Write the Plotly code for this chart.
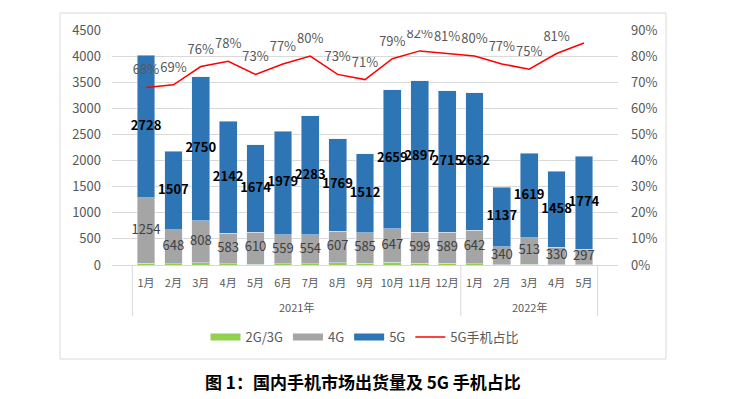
import plotly.graph_objects as go

years = ["2021年"] * 12 + ["2022年"] * 5
months = ["1月", "2月", "3月", "4月", "5月", "6月", "7月", "8月", "9月", "10月", "11月", "12月",
          "1月", "2月", "3月", "4月", "5月"]
g23 = [30, 24, 43, 25, 16, 22, 22, 42, 30, 52, 30, 36, 28, 9, 12, 7, 8]
g4 = [1254, 648, 808, 583, 610, 559, 554, 607, 585, 647, 599, 589, 642, 340, 513, 330, 297]
g5 = [2728, 1507, 2750, 2142, 1674, 1979, 2283, 1769, 1512, 2659, 2897, 2715, 2632, 1137, 1619, 1458, 1774]
share = [0.68, 0.69, 0.76, 0.78, 0.73, 0.77, 0.80, 0.73, 0.71, 0.79, 0.82, 0.81, 0.80, 0.77, 0.75, 0.81, 0.85]

# unique category keys, shown with month tick text
x = [y + m for y, m in zip(years, months)]
FONT = "Noto Sans CJK SC"
GREEN, GRAY, BLUE, RED = "#92D050", "#A5A5A5", "#2E75B6", "#FF0000"
TXT = "#595959"
LINEC = "#D9D9D9"

fig = go.Figure()
fig.add_bar(x=x, y=g23, name="2G/3G", marker_color=GREEN, showlegend=False)
fig.add_bar(x=x, y=g4, name="4G", marker_color=GRAY, showlegend=False)
fig.add_bar(x=x, y=g5, name="5G", marker_color=BLUE, showlegend=False)

# data labels (centred in segments)
pos4 = [a + b / 2 for a, b in zip(g23, g4)]
pos5 = [a + b + c / 2 for a, b, c in zip(g23, g4, g5)]
fig.add_scatter(x=x, y=pos4, mode="text", text=[str(v) for v in g4],
                textfont=dict(family=FONT, size=13, color="#404040"),
                showlegend=False, hoverinfo="skip")
fig.add_scatter(x=x, y=pos5, mode="text", text=["<b>%d</b>" % v for v in g5],
                textfont=dict(family=FONT, size=13, color="#000000"),
                showlegend=False, hoverinfo="skip")

# share line
fig.add_scatter(x=x, y=share, yaxis="y2", mode="lines+markers+text", name="5G手机占比",
                line=dict(color=RED, width=1.5),
                marker=dict(size=14, color="rgba(0,0,0,0)"),
                text=["%d%%" % round(v * 100) for v in share], textposition="top center",
                textfont=dict(family=FONT, size=13, color=TXT), showlegend=False)

# legend entries
for nm, col, w in [("2G/3G", GREEN, 7), ("4G", GRAY, 7), ("5G", BLUE, 7), ("5G手机占比", RED, 1.5)]:
    fig.add_scatter(x=[None], y=[None], mode="lines", name=nm,
                    line=dict(color=col, width=w), showlegend=True)

# page has an 8px body margin: work in reference pixels, shifted by OFF
OFF = 8
W, H = 750 - OFF, 399 - OFF
PL, PR, PT, PB = 112, 618, 30, 265          # plot area in reference pixels
L, R, T, B = PL - OFF, W - (PR - OFF), PT - OFF, H - (PB - OFF)
pw, ph = W - L - R, H - T - B

def px(xp):
    return (xp - OFF - L) / pw

def py(yp):
    return (H - B - (yp - OFF)) / ph

# year groups -> dividers and group labels (category index coordinates)
groups = []
for i, yv in enumerate(years):
    if not groups or groups[-1][0] != yv:
        groups.append([yv, i, i])
    else:
        groups[-1][2] = i

shapes = [dict(type="rect", xref="paper", yref="paper",
               x0=px(60), x1=px(666), y0=py(359), y1=py(13),
               line=dict(color=LINEC, width=1), layer="below")]
annotations = []
edges = [groups[0][1] - 0.5] + [g[2] + 0.5 for g in groups]
for e in edges:
    shapes.append(dict(type="line", xref="x", yref="paper", x0=e, x1=e,
                       y0=py(265), y1=py(316), line=dict(color=LINEC, width=1)))
for name, i0, i1 in groups:
    annotations.append(dict(text=name, xref="x", yref="paper", x=(i0 + i1) / 2, y=py(307),
                            xanchor="center", yanchor="middle", showarrow=False,
                            font=dict(family=FONT, size=11, color=TXT)))
annotations.append(dict(text="<b>图 1：国内手机市场出货量及 5G 手机占比</b>", xref="paper", yref="paper",
                        x=px(363), y=py(381), xanchor="center", yanchor="middle", showarrow=False,
                        font=dict(family=FONT, size=17, color="#000000")))

fig.update_layout(
    width=W, height=H,
    margin=dict(l=L, r=R, t=T, b=B, autoexpand=False),
    barmode="stack", bargap=0.35,
    plot_bgcolor="white", paper_bgcolor="white",
    font=dict(family=FONT, color=TXT, size=13),
    xaxis=dict(type="category", tickmode="array", tickvals=x, ticktext=months,
               showline=True, linecolor=LINEC, linewidth=1,
               showgrid=False, tickfont=dict(size=11, color=TXT), tickangle=0,
               automargin=False, ticklabelstandoff=8, ticks=""),
    yaxis=dict(range=[0, 4500], dtick=500, showgrid=True, gridcolor=LINEC,
               zeroline=False, tickfont=dict(size=13, color=TXT), ticks="",
               ticklabelstandoff=10, automargin=False),
    yaxis2=dict(range=[0, 0.9], dtick=0.1, tickformat=".0%", overlaying="y", side="right",
                showgrid=False, zeroline=False, tickfont=dict(size=13, color=TXT),
                ticklabelstandoff=12, automargin=False),
    legend=dict(orientation="h", x=0.5, xanchor="center", y=py(337), yanchor="middle",
                font=dict(size=13, color=TXT), itemwidth=30, traceorder="normal"),
    shapes=shapes,
    annotations=annotations,
)

fig.write_html("out.html")
